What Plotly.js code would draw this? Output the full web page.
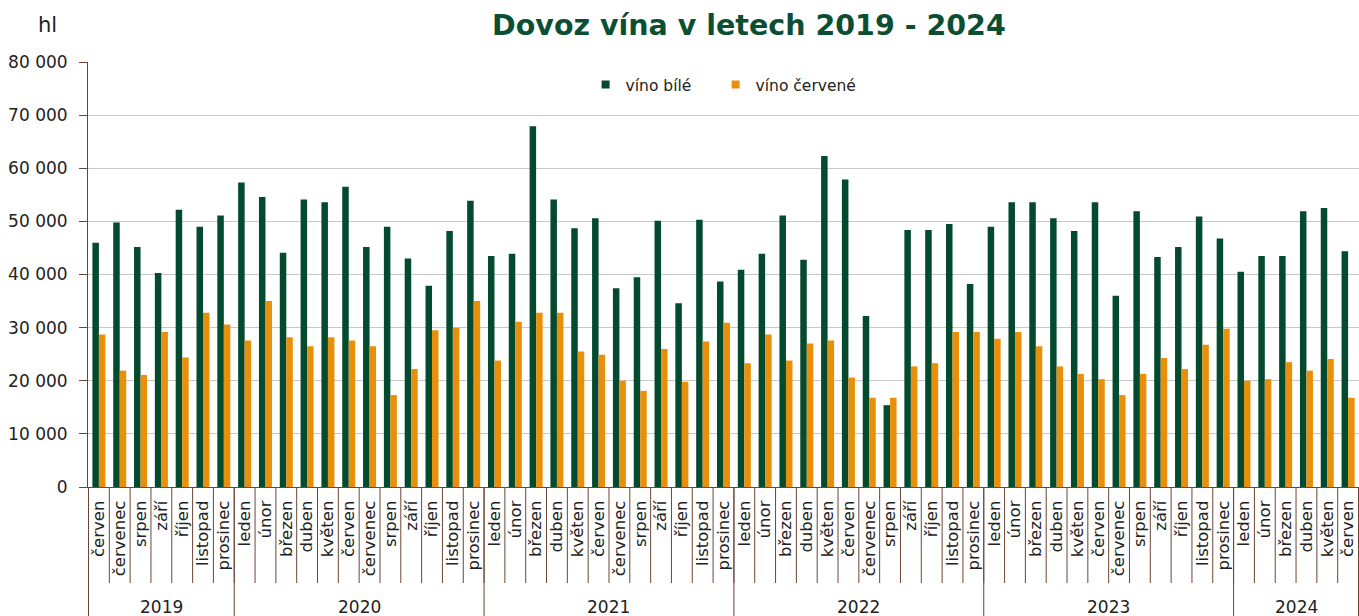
<!DOCTYPE html>
<html><head><meta charset="utf-8">
<script src="https://cdn.plot.ly/plotly-3.0.1.min.js"></script>
<style>html,body{margin:0;padding:0;background:#fff}#chart{width:1359px;height:616px}</style>
</head><body><div id="chart"></div>
<script>
const years = [
 "2019","2019","2019","2019","2019","2019","2019",
 "2020","2020","2020","2020","2020","2020","2020","2020","2020","2020","2020","2020",
 "2021","2021","2021","2021","2021","2021","2021","2021","2021","2021","2021","2021",
 "2022","2022","2022","2022","2022","2022","2022","2022","2022","2022","2022","2022",
 "2023","2023","2023","2023","2023","2023","2023","2023","2023","2023","2023","2023",
 "2024","2024","2024","2024","2024","2024"
];
const months = [
 "červen","červenec","srpen","září","říjen","listopad","prosinec",
 "leden","únor","březen","duben","květen","červen","červenec","srpen","září","říjen","listopad","prosinec",
 "leden","únor","březen","duben","květen","červen","červenec","srpen","září","říjen","listopad","prosinec",
 "leden","únor","březen","duben","květen","červen","červenec","srpen","září","říjen","listopad","prosinec",
 "leden","únor","březen","duben","květen","červen","červenec","srpen","září","říjen","listopad","prosinec",
 "leden","únor","březen","duben","květen","červen"
];
const whiteWine = [
 46000,49800,45200,40300,52200,49000,51100,
 57300,54600,44100,54100,53600,56500,45200,49000,43000,37900,48200,53900,
 43500,43900,67900,54100,48700,50600,37400,39500,50100,34600,50300,38700,
 40900,43900,51100,42800,62300,57900,32200,15400,48400,48400,49500,38200,
 49000,53600,53600,50600,48200,53600,36000,51900,43300,45200,50900,46800,
 40500,43500,43500,51900,52500,44400
];
const redWine = [
 28700,21900,21100,29200,24400,32800,30600,
 27600,35000,28200,26500,28200,27600,26500,17300,22200,29500,30000,35000,
 23800,31100,32800,32800,25500,24900,20000,18100,26000,19800,27400,30900,
 23300,28700,23800,27000,27600,20600,16800,16800,22700,23300,29200,29200,
 27900,29200,26500,22700,21300,20300,17300,21300,24300,22200,26800,29800,
 20000,20300,23500,21900,24100,16800
];
const seriesNames = ["víno bílé","víno červené"];
const colors = ["#044a2f","#e8900c"];
const yTicks = [0,10000,20000,30000,40000,50000,60000,70000,80000];

const font = "DejaVu Sans, Verdana, sans-serif";
const brown = "#6b4636";
const textColor = "#222";

// unique category keys (year + month), labelled by the month only
const keys = months.map((m, i) => years[i] + " " + m);

const legendIds = ["legend", "legend2"];
const traces = [whiteWine, redWine].map((vals, k) => ({
  type: "bar",
  name: seriesNames[k],
  x: keys,
  y: vals,
  marker: {color: colors[k]},
  showlegend: false,
  hovertemplate: "%{x}: %{y}<extra>" + seriesNames[k] + "</extra>"
}));
// legend entries (small square keys like the original)
seriesNames.forEach((n, k) => traces.push({
  type: "scatter", mode: "markers", name: n,
  x: [null], y: [null],
  marker: {symbol: "square", size: 8, color: colors[k]},
  legend: legendIds[k], showlegend: true, hoverinfo: "skip"
}));

// plot area geometry in px (used to express label-area lengths in paper units)
const plotH = 425;
const sepLen = 96 / plotH;
const divLen = 129 / plotH;
const yearLabelY = -120 / plotH;

const shapes = [];
const annotations = [];
// month separators
for (let i = 0; i <= keys.length; i++) {
  shapes.push({
    type: "line", xref: "x", yref: "paper",
    x0: i - 0.5, x1: i - 0.5, y0: 0, y1: -sepLen,
    line: {color: brown, width: 1}
  });
}
// year groups: dividers + labels
let start = 0;
for (let i = 1; i <= years.length; i++) {
  if (i === years.length || years[i] !== years[start]) {
    shapes.push({
      type: "line", xref: "x", yref: "paper",
      x0: start - 0.5, x1: start - 0.5, y0: 0, y1: -divLen,
      line: {color: brown, width: 1}
    });
    annotations.push({
      text: years[start], xref: "x", yref: "paper",
      x: (start + i - 1) / 2, y: yearLabelY,
      xanchor: "center", yanchor: "middle", showarrow: false,
      font: {family: font, size: 17, color: textColor}
    });
    if (i === years.length) {
      shapes.push({
        type: "line", xref: "x", yref: "paper",
        x0: i - 0.5, x1: i - 0.5, y0: 0, y1: -divLen,
        line: {color: brown, width: 1}
      });
    }
    start = i;
  }
}
annotations.push({
  text: "hl", xref: "paper", yref: "paper", x: -0.032, y: 1 + 37/plotH,
  xanchor: "center", yanchor: "middle", showarrow: false,
  font: {family: font, size: 21, color: textColor}
});

const legendBase = {
  orientation: "h", xanchor: "left", y: 0.946, yanchor: "middle",
  font: {family: font, size: 15.5, color: textColor},
  bgcolor: "rgba(0,0,0,0)", itemwidth: 30
};

const layout = {
  width: 1359, height: 616,
  margin: {l: 88, r: 0, t: 62, b: 129},
  paper_bgcolor: "#fff", plot_bgcolor: "#fff",
  separators: ", ",
  font: {family: font, size: 16, color: textColor},
  title: {
    text: "<b>Dovoz vína v letech 2019 - 2024</b>",
    font: {family: font, size: 28.5, color: "#0b4f33"},
    x: 0.52, xref: "paper", xanchor: "center",
    y: 0.96, yref: "container", yanchor: "middle"
  },
  barmode: "group",
  bargap: 0.375,
  bargroupgap: 0,
  legend: Object.assign({}, legendBase, {x: 0.3915}),
  legend2: Object.assign({}, legendBase, {x: 0.4938}),
  xaxis: {
    type: "category",
    tickvals: keys,
    ticktext: months,
    tickangle: -90,
    ticks: "",
    ticklabelstandoff: 6,
    showline: true, linecolor: brown, linewidth: 1,
    tickfont: {family: font, size: 16.5, color: textColor},
    showgrid: false, zeroline: false,
    fixedrange: true
  },
  yaxis: {
    range: [0, 80000],
    tickvals: yTicks,
    tickformat: ",d",
    ticks: "outside", ticklen: 8, tickcolor: brown,
    ticklabelstandoff: 8,
    showline: true, linecolor: brown, linewidth: 1,
    showgrid: true, gridcolor: "#c8c8c8", gridwidth: 1,
    zeroline: false,
    tickfont: {family: font, size: 17, color: textColor},
    fixedrange: true
  },
  shapes: shapes,
  annotations: annotations
};

Plotly.newPlot("chart", traces, layout, {displayModeBar: false, responsive: false});
</script>
</body></html>
